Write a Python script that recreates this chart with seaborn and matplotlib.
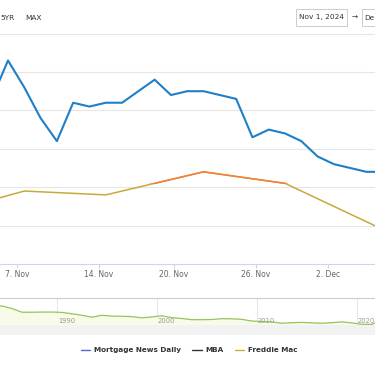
import numpy as np
import pandas as pd
import seaborn as sns
import matplotlib.pyplot as plt
from matplotlib.patches import Rectangle
from matplotlib.lines import Line2D

# ---------------- data ----------------
# Mortgage News Daily (ordinal business-day positions)
mnd_pos = [-1, 0, 1, 2, 3, 4, 5, 6, 7, 8, 9, 10, 11, 12, 13, 14, 15, 16, 17, 18, 19, 20, 21, 22, 23]
mnd_rate = [7.03, 7.13, 7.06, 6.98, 6.92, 7.02, 7.01, 7.02, 7.02, 7.05, 7.08, 7.04, 7.05,
            7.05, 7.04, 7.03, 6.93, 6.95, 6.94, 6.92, 6.88, 6.86, 6.85, 6.84, 6.84]

# Freddie Mac weekly (same ordinal scale)
fm_pos = [-5, 1, 6, 12, 17, 23]
fm_rate = [6.72, 6.79, 6.78, 6.84, 6.81, 6.69]
fm_zone_threshold = 6.808

tick_pos = [0.55, 5.58, 10.18, 15.21, 19.63]
tick_labels = ["7. Nov", "14. Nov", "20. Nov", "26. Nov", "2. Dec"]
y_grid = [6.6, 6.7, 6.8, 6.9, 7.0, 7.1, 7.2]

# Navigator: long-run 30yr rate history
nav_year = [1983, 1984, 1985, 1986, 1987, 1988, 1989, 1990, 1991, 1992, 1993, 1994, 1995,
            1996, 1997, 1998, 1999, 2000, 2001, 2002, 2003, 2004, 2005, 2006, 2007, 2008,
            2009, 2010, 2011, 2012, 2013, 2014, 2015, 2016, 2017, 2018, 2019, 2020, 2021, 2022]
nav_rate = [13.2, 13.9, 12.4, 10.2, 10.2, 10.3, 10.3, 10.1, 9.3, 8.4, 7.3, 8.4, 7.9,
            7.8, 7.6, 6.9, 7.4, 8.1, 7.0, 6.5, 5.8, 5.8, 5.9, 6.4, 6.3, 6.0,
            5.0, 4.7, 4.5, 3.7, 4.0, 4.2, 3.9, 3.7, 4.0, 4.5, 3.9, 3.1, 3.0, 5.3]
nav_ticks = [1990, 2000, 2010, 2020]

legend_names = ["Mortgage News Daily", "MBA", "Freddie Mac"]

# ---------------- style ----------------
sns.set_theme(style="white")
plt.rcParams['font.family'] = ['DejaVu Sans']

W, H = 375, 366
fig = plt.figure(figsize=(W / 100, H / 100), dpi=100)

def fy(p):
    return 1 - p / H

BLUE = "#1f7fc6"
OLIVE = "#c5aa3e"
ORANGE = "#f47c3c"
GRID = "#e6e6e6"

# ---------------- main chart ----------------
top_px, bot_px = 33.6, 264
ax = fig.add_axes([0, fy(bot_px), 1, (bot_px - top_px) / H])
ax.set_xlim(-0.49, 22.52)
ax.set_ylim(6.6, 7.2)
for v in y_grid[1:]:
    ax.axhline(v, color=GRID, lw=0.8, zorder=0, clip_on=False)

mnd = pd.DataFrame({"pos": mnd_pos, "rate": mnd_rate})
fm = pd.DataFrame({"pos": fm_pos, "rate": fm_rate})

sns.lineplot(data=mnd, x="pos", y="rate", ax=ax, color=BLUE, lw=1.5, zorder=3)
sns.lineplot(data=fm, x="pos", y="rate", ax=ax, color=OLIVE, lw=1.1, zorder=2)
sns.lineplot(data=fm, x="pos", y="rate", ax=ax, color=ORANGE, lw=1.1, zorder=2.5)
orange_line = ax.get_lines()[-1]
clip = Rectangle((-10, fm_zone_threshold), 50, 5, transform=ax.transData)
orange_line.set_clip_path(clip)

ax.set_xlabel("")
ax.set_ylabel("")
ax.set_yticks([])
ax.set_xticks(tick_pos)
ax.set_xticklabels(tick_labels)
ax.tick_params(axis="x", colors="#ccd6eb", length=3, width=0.8, pad=1.5,
               labelsize=5.5, labelcolor="#666666", bottom=True)
for s in ["top", "left", "right"]:
    ax.spines[s].set_visible(False)
ax.spines["bottom"].set_color("#ccd6eb")
ax.spines["bottom"].set_linewidth(0.8)

# ---------------- navigator ----------------
nav_top, nav_bot = 298, 325
nax = fig.add_axes([0, fy(nav_bot), 1, (nav_bot - nav_top) / H])
nav = pd.DataFrame({"year": [y + 0.5 for y in nav_year], "rate": nav_rate})
nax.set_xlim(1984.3, 2021.85)
nax.set_ylim(2.65, 18.6)
nax.fill_between(nav["year"], nav["rate"], 2.65, color="#f7fbe8", zorder=1, lw=0)
sns.lineplot(data=nav, x="year", y="rate", ax=nax, color="#95c45e", lw=0.9, zorder=3)
for t in nav_ticks:
    nax.axvline(t, color=GRID, lw=0.7, zorder=0)
    nax.text(t + 0.1, 3.3, str(t), fontsize=4.9, color="#999999", ha="left", va="bottom", zorder=4)
nax.set_xticks([])
nax.set_yticks([])
nax.set_xlabel("")
nax.set_ylabel("")
for s in ["left", "right", "bottom"]:
    nax.spines[s].set_visible(False)
nax.spines["top"].set_color("#cccccc")
nax.spines["top"].set_linewidth(0.8)

# scrollbar band
fig.patches.append(Rectangle((0, fy(335)), 1, 10 / H, transform=fig.transFigure,
                             facecolor="#f2f2f2", edgecolor="none", zorder=0))

# ---------------- range selector / inputs ----------------
fig.text(0 / W, fy(17.5), "5YR", fontsize=5.3, color="#333333", ha="left", va="center")
fig.text(25 / W, fy(17.5), "MAX", fontsize=5.3, color="#333333", ha="left", va="center")
fig.patches.append(Rectangle((296 / W, fy(26)), 51 / W, 17 / H, transform=fig.transFigure,
                             facecolor="white", edgecolor="#cccccc", lw=0.7))
fig.text(321.5 / W, fy(17.5), "Nov 1, 2024", fontsize=5.3, color="#333333", ha="center", va="center")
fig.text(355 / W, fy(17.5), "\u2192", fontsize=5.3, color="#333333", ha="center", va="center")
fig.patches.append(Rectangle((362 / W, fy(26)), 51 / W, 17 / H, transform=fig.transFigure,
                             facecolor="white", edgecolor="#cccccc", lw=0.7))
fig.text(364.5 / W, fy(17.5), "De", fontsize=5.3, color="#333333", ha="left", va="center")

# ---------------- legend ----------------
handles = [Line2D([], [], color="#5566d8", lw=1.0),
           Line2D([], [], color="#333333", lw=1.0),
           Line2D([], [], color="#c8b030", lw=1.0)]
leg = fig.legend(handles, legend_names, loc="center", bbox_to_anchor=(189 / W, fy(350)),
                 ncol=3, frameon=False, prop=dict(weight="bold", size=5.2),
                 handlelength=1.3, handletextpad=0.5, columnspacing=1.6)
for t in leg.get_texts():
    t.set_color("#333333")

fig.savefig("out.png", dpi=100)
